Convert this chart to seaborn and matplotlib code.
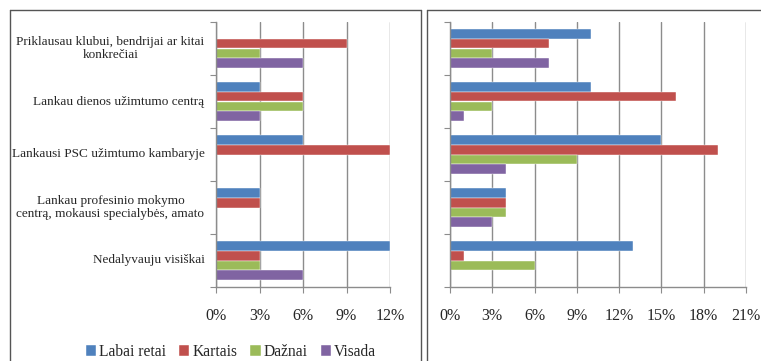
import matplotlib.pyplot as plt
import seaborn as sns
import pandas as pd
from matplotlib.lines import Line2D

# Categories and series (values in %)
categories = [
    "Priklausau klubui, bendrijai ar kitai\nkonkrečiai",
    "Lankau dienos užimtumo centrą",
    "Lankausi PSC užimtumo kambaryje",
    "Lankau profesinio mokymo\ncentrą, mokausi specialybės, amato",
    "Nedalyvauju visiškai",
]
series = ["Labai retai", "Kartais", "Dažnai", "Visada"]
colors = ["#4F81BD", "#C0504D", "#9BBB59", "#8064A2"]

# left panel
left_labai_retai = [0, 3, 6, 3, 12]
left_kartais = [9, 6, 12, 3, 3]
left_daznai = [3, 6, 0, 0, 3]
left_visada = [6, 3, 0, 0, 6]

# right panel
right_labai_retai = [10, 10, 15, 4, 13]
right_kartais = [7, 16, 19, 4, 1]
right_daznai = [3, 3, 9, 4, 6]
right_visada = [7, 1, 4, 3, 0]

left_ticks = [0, 3, 6, 9, 12]
right_ticks = [0, 3, 6, 9, 12, 15, 18, 21]


def to_long(cols):
    rows = []
    for s, vals in zip(series, cols):
        for c, v in zip(categories, vals):
            rows.append({"cat": c, "series": s, "value": v})
    return pd.DataFrame(rows)


df_left = to_long([left_labai_retai, left_kartais, left_daznai, left_visada])
df_right = to_long([right_labai_retai, right_kartais, right_daznai, right_visada])

sns.set_style("white")
plt.rcParams["font.family"] = ["Liberation Serif", "DejaVu Serif"]

W, H = 761, 361
fig = plt.figure(figsize=(W / 100, H / 100), dpi=100)


def px_axes(x0, x1, y0, y1):
    return fig.add_axes([x0 / W, 1 - y1 / H, (x1 - x0) / W, (y1 - y0) / H])


ax_l = px_axes(216, 390, 22, 287)
ax_r = px_axes(450, 746, 22, 287)

grid_c = "#8C8C8C"
for ax, df, ticks in [(ax_l, df_left, left_ticks), (ax_r, df_right, right_ticks)]:
    sns.barplot(data=df, y="cat", x="value", hue="series", orient="h",
                palette=colors, width=0.72, ax=ax, legend=True,
                edgecolor="white", linewidth=0.3, saturation=1)
    ax.get_legend().remove()
    ax.set_xlim(0, ticks[-1])
    ax.set_ylim(len(categories) - 0.5, -0.5)
    ax.set_xticks(ticks)
    ax.set_xticklabels([f"{t}%" for t in ticks], fontsize=11.5)
    ax.set_yticks([i - 0.5 for i in range(len(categories) + 1)])
    ax.set_yticklabels([])
    ax.set_xlabel("")
    ax.set_ylabel("")
    ax.grid(axis="x", color=grid_c, linewidth=1)
    ax.set_axisbelow(True)
    for side in ["top", "right"]:
        ax.spines[side].set_visible(False)
    for side in ["left", "bottom"]:
        ax.spines[side].set_color(grid_c)
        ax.spines[side].set_linewidth(1)
    ax.tick_params(axis="both", direction="out", length=4, color=grid_c,
                   left=True, bottom=True)
    ax.tick_params(axis="x", pad=11)

# category labels for the left panel
for i, c in enumerate(categories):
    ax_l.text(-0.8, i, c, ha="right", va="center", multialignment="center",
              fontsize=9.5)

# legend under the left panel
handles, labels = ax_l.get_legend_handles_labels()
fig.legend(handles, labels, loc="center", bbox_to_anchor=(231 / W, 1 - 352 / H),
           ncol=4, frameon=False, fontsize=11.2, handlelength=0.65,
           handleheight=0.65, handletextpad=0.2, columnspacing=0.85)

# panel borders
bc = "#555555"
fig.add_artist(Line2D([10 / W, 421 / W], [1 - 9.5 / H, 1 - 9.5 / H], color=bc, lw=1))
fig.add_artist(Line2D([10 / W, 10 / W], [1 - 9.5 / H, 0], color=bc, lw=1))
fig.add_artist(Line2D([421 / W, 421 / W], [1 - 9.5 / H, 0], color=bc, lw=1))
fig.add_artist(Line2D([427 / W, 1], [1 - 9.5 / H, 1 - 9.5 / H], color=bc, lw=1))
fig.add_artist(Line2D([427 / W, 427 / W], [1 - 9.5 / H, 0], color=bc, lw=1))

fig.savefig("out.png", dpi=100)
